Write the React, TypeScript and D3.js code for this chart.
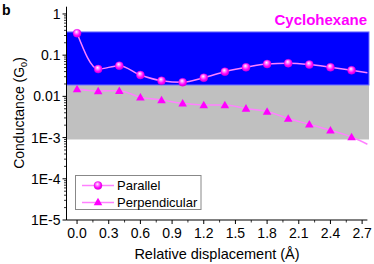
import * as d3 from "d3";

const xs = [0, 0.2, 0.4, 0.6, 0.8, 1.0, 1.2, 1.4, 1.6, 1.8, 2.0, 2.2, 2.4, 2.6];
const parallel = [0.34, 0.046, 0.0556, 0.033, 0.024, 0.022, 0.0284, 0.0398, 0.0508, 0.061, 0.0636, 0.059, 0.0508, 0.043];
const perpendicular = [0.0151, 0.0135, 0.0137, 0.0095, 0.0082, 0.0068, 0.0062, 0.0062, 0.0051, 0.0043, 0.0029, 0.0021, 0.0015, 0.00103];
// where the drawn curves leave the frame on the right
const tailX = 2.75;
const parallelTail = 0.0376;
const perpendicularTail = 0.00069;

const blueBand = [0.0189, 0.366];
const grayBand = [0.0009, 0.0189];

const xTicks = [0, 0.3, 0.6, 0.9, 1.2, 1.5, 1.8, 2.1, 2.4, 2.7];
const yTicks = [1e-5, 1e-4, 1e-3, 0.01, 0.1, 1];
const yLabels = ["1E-5", "1E-4", "1E-3", "0.01", "0.1", "1"];

const W = 374;
const H = 264;
const FONT = "'Liberation Sans', Arial, sans-serif";
const MAG = "#ff00ff";
const LINE = "#ff80ff";

export default function App() {
  const x = d3.scaleLinear().domain([-0.1, 2.75]).range([66.5, 367.4]);
  const y = d3.scaleLog().domain([1e-5, 1.5]).range([220, 6.7]);

  const line = d3
    .line<[number, number]>()
    .x((d) => x(d[0]))
    .y((d) => y(d[1]))
    .curve(d3.curveMonotoneX);

  const parPts: [number, number][] = [...xs.map((v, i) => [v, parallel[i]] as [number, number]), [tailX, parallelTail]];
  const perPts: [number, number][] = [...xs.map((v, i) => [v, perpendicular[i]] as [number, number]), [tailX, perpendicularTail]];

  const minorX: number[] = [];
  for (let i = 0; i < xTicks.length - 1; i++) minorX.push((xTicks[i] + xTicks[i + 1]) / 2);

  const minorY: number[] = [];
  for (let e = -5; e < 0; e++) for (let k = 2; k < 10; k++) minorY.push(k * Math.pow(10, e));

  const x0 = x.range()[0];
  const x1 = x.range()[1];
  const y0 = y.range()[0];
  const yTop = y.range()[1];

  const tri = (cx: number, cy: number, s = 4.3) =>
    `M${cx},${cy - s}L${cx + s},${cy + s * 0.75}L${cx - s},${cy + s * 0.75}Z`;

  const Sphere = ({ cx, cy }: { cx: number; cy: number }) => (
    <circle cx={cx} cy={cy} r={4} fill="url(#sph)" stroke="#e000e0" strokeWidth={0.4} />
  );

  return (
    <svg width={W} height={H} style={{ position: "absolute", left: 0, top: 0, fontFamily: FONT }}>
      <defs>
        <radialGradient id="sph" cx="0.45" cy="0.4" r="0.6" fx="0.42" fy="0.32">
          <stop offset="0" stopColor="#ffffff" />
          <stop offset="0.25" stopColor="#ff99ff" />
          <stop offset="0.7" stopColor="#ff00ff" />
          <stop offset="1" stopColor="#d800d8" />
        </radialGradient>
      </defs>
      <rect width={W} height={H} fill="#fff" />

      {/* bands */}
      <rect x={x0} y={y(grayBand[1])} width={369 - x0} height={y(grayBand[0]) - y(grayBand[1])} fill="#c0c0c0" />
      <rect x={x0} y={y(blueBand[1])} width={369 - x0} height={y(blueBand[0]) - y(blueBand[1])} fill="#0000ff" stroke="#7070ff" strokeWidth={1} />

      {/* axes */}
      <line x1={x0} x2={x0} y1={yTop} y2={y0} stroke="#000" strokeWidth={1} />
      <line x1={x0} x2={x1} y1={y0} y2={y0} stroke="#000" strokeWidth={1} />
      {yTicks.map((t, i) => (
        <g key={t}>
          <line x1={x0 - 4} x2={x0} y1={y(t)} y2={y(t)} stroke="#000" />
          <text x={x0 - 6} y={y(t) + 5} textAnchor="end" fontSize={14} fill="#000">
            {yLabels[i]}
          </text>
        </g>
      ))}
      {minorY.map((t) => (
        <line key={t} x1={x0 - 2.5} x2={x0} y1={y(t)} y2={y(t)} stroke="#000" strokeWidth={0.8} />
      ))}
      {xTicks.map((t) => (
        <g key={t}>
          <line x1={x(t)} x2={x(t)} y1={y0} y2={y0 + 4} stroke="#000" />
          <text x={x(t)} y={238} textAnchor="middle" fontSize={14} fill="#000">
            {t.toFixed(1)}
          </text>
        </g>
      ))}
      {minorX.map((t) => (
        <line key={t} x1={x(t)} x2={x(t)} y1={y0} y2={y0 + 2.5} stroke="#000" strokeWidth={0.8} />
      ))}

      {/* series */}
      <path d={line(parPts) ?? ""} fill="none" stroke={LINE} strokeWidth={1.5} />
      <path d={line(perPts) ?? ""} fill="none" stroke={LINE} strokeWidth={1.5} />
      {xs.map((v, i) => (
        <path key={"t" + v} d={tri(x(v), y(perpendicular[i]))} fill={MAG} />
      ))}
      {xs.map((v, i) => (
        <Sphere key={"c" + v} cx={x(v)} cy={y(parallel[i])} />
      ))}

      {/* legend */}
      <rect x={75.5} y={175.5} width={125.5} height={34} fill="#fff" stroke="#888" strokeWidth={1} />
      <line x1={82} x2={114} y1={185.5} y2={185.5} stroke={LINE} strokeWidth={1.5} />
      <Sphere cx={98} cy={185.5} />
      <text x={117} y={190} fontSize={13} fill="#000">Parallel</text>
      <line x1={82} x2={114} y1={202.5} y2={202.5} stroke={LINE} strokeWidth={1.5} />
      <path d={tri(98, 202)} fill={MAG} />
      <text x={117} y={207} fontSize={13} fill="#000">Perpendicular</text>

      {/* labels */}
      <text x={367} y={25} textAnchor="end" fontSize={15} fontWeight="bold" fill={MAG}>
        Cyclohexane
      </text>
      <text x={2} y={15} fontSize={14} fontWeight="bold" fill="#000">b</text>
      <text x={217} y={259} textAnchor="middle" fontSize={14.5} fill="#000">
        Relative displacement (Å)
      </text>
      <text transform="translate(24,113) rotate(-90)" textAnchor="middle" fontSize={14} fill="#000">
        Conductance (G<tspan fontSize={9} dy={3}>0</tspan><tspan dy={-3}>)</tspan>
      </text>
    </svg>
  );
}
